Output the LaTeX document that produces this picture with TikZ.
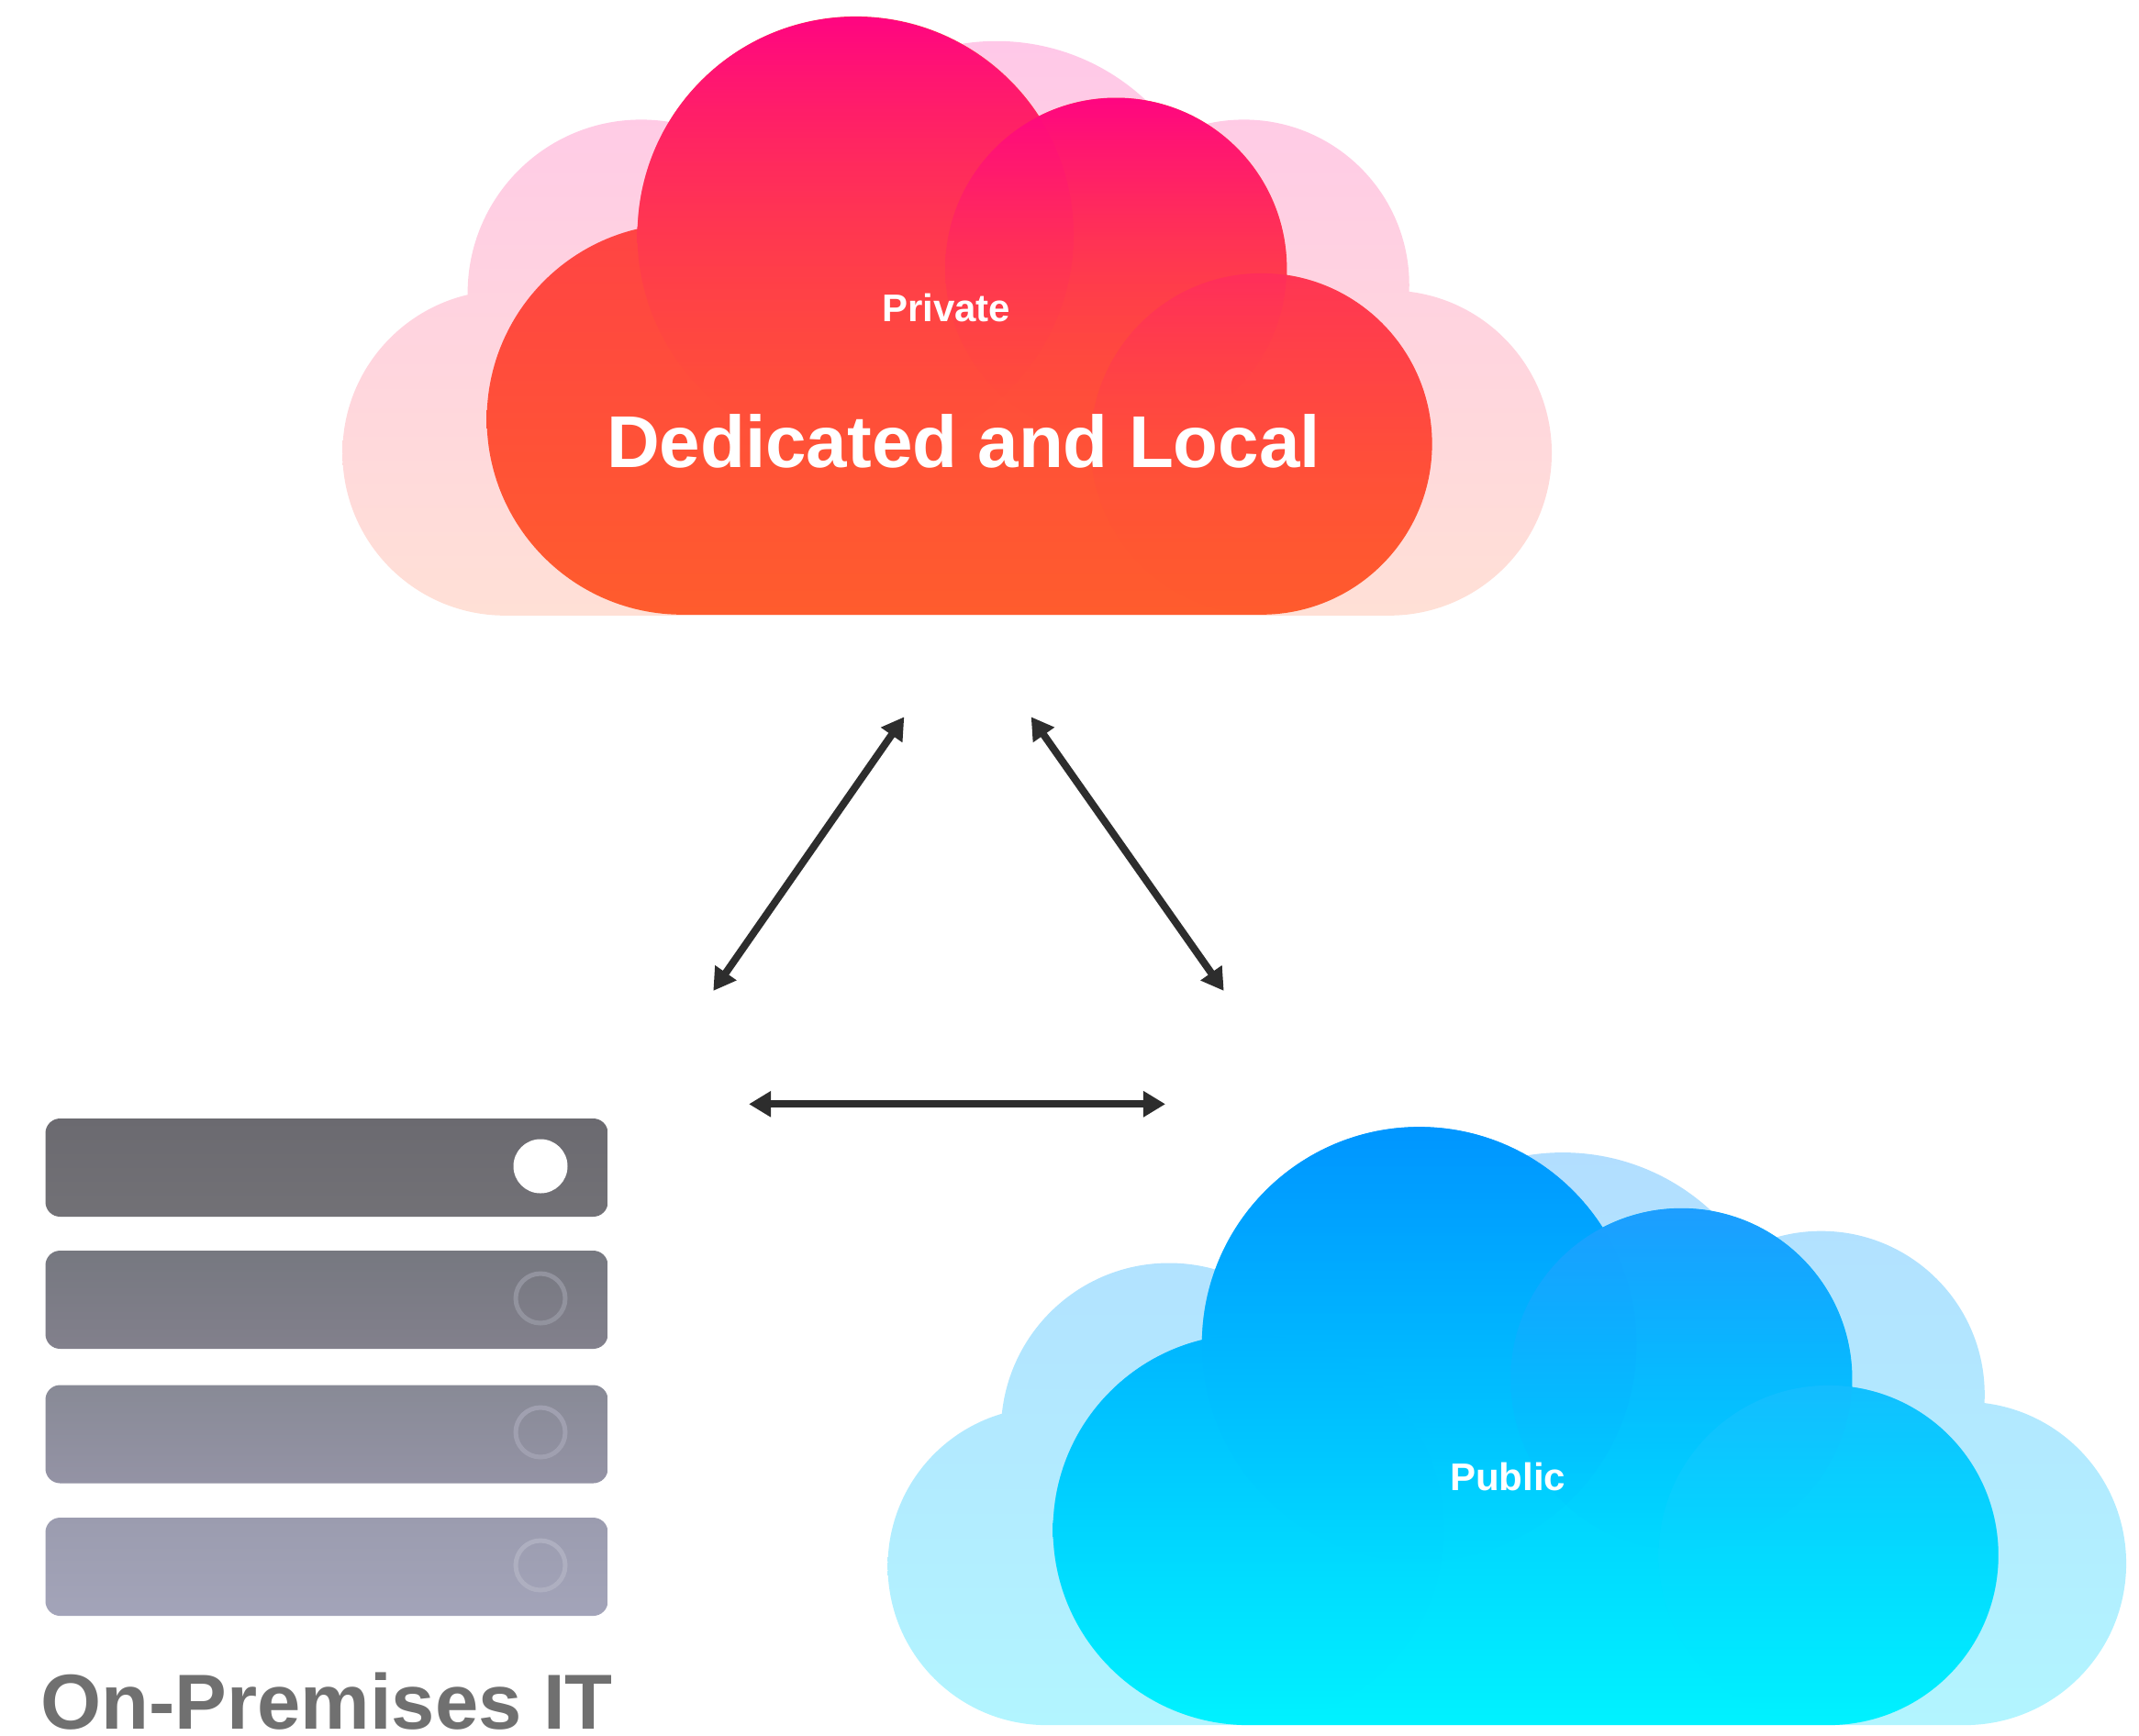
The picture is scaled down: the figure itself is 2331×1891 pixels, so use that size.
\documentclass[tikz,border=0pt]{standalone}
\usepackage{fontspec}
\setmainfont{Liberation Sans}
\usetikzlibrary{arrows.meta,fadings}
\tikzfading[name=fadeTop, top color=transparent!0, middle color=transparent!12, bottom color=transparent!100]
\tikzfading[name=fadeLobe, top color=transparent!10, middle color=transparent!100, bottom color=transparent!100]
\definecolor{pkA}{RGB}{255,5,130}
\definecolor{pkM}{RGB}{255,22,100}
\definecolor{pkB}{RGB}{255,83,54}
\definecolor{pkC}{RGB}{255,35,105}
\definecolor{orA}{RGB}{255,55,80}
\definecolor{orM}{RGB}{255,70,62}
\definecolor{orC}{RGB}{255,80,54}
\definecolor{orB}{RGB}{255,92,45}
\definecolor{pbT}{RGB}{255,200,232}
\definecolor{pbB}{RGB}{255,224,214}
\definecolor{blA}{RGB}{0,150,255}
\definecolor{blM}{RGB}{0,160,255}
\definecolor{blB}{RGB}{0,200,255}
\definecolor{blC}{RGB}{30,158,255}
\definecolor{cyT}{RGB}{0,160,255}
\definecolor{cyM}{RGB}{0,178,255}
\definecolor{cyB}{RGB}{0,242,255}
\definecolor{cyL}{RGB}{0,180,255}
\definecolor{cyR}{RGB}{28,190,255}
\definecolor{cyP}{RGB}{0,198,255}
\definecolor{cyQ}{RGB}{0,204,255}
\definecolor{bbT}{RGB}{178,222,255}
\definecolor{bbB}{RGB}{178,245,255}
\definecolor{arrowink}{RGB}{45,45,45}
\definecolor{labelgray}{RGB}{112,112,112}
\definecolor{sAt}{RGB}{107,106,112}\definecolor{sAb}{RGB}{114,113,118}
\definecolor{sBt}{RGB}{118,120,128}\definecolor{sBb}{RGB}{130,128,140}
\definecolor{sCt}{RGB}{136,138,150}\definecolor{sCb}{RGB}{148,147,165}
\definecolor{sDt}{RGB}{155,156,175}\definecolor{sDb}{RGB}{163,164,185}
\definecolor{rB}{RGB}{146,147,158}
\definecolor{rC}{RGB}{160,160,176}
\definecolor{rD}{RGB}{174,175,192}
\tikzset{
  x=1pt,y=1pt,
  bar/.style={rounded corners=16pt,minimum width=613pt,minimum height=107pt,inner sep=0pt,draw=none},
  lampon/.style={circle,fill=white,minimum size=59pt,inner sep=0pt},
  lampoff/.style={circle,draw=#1,line width=5pt,minimum size=54pt,inner sep=0pt},
  dbl/.style={arrowink,line width=8pt,{Triangle[length=24pt,width=27pt]}-{Triangle[length=24pt,width=27pt]}},
  small/.style={white,font=\bfseries\fontsize{42}{42}\selectfont,anchor=base,inner sep=0pt},
  big/.style={white,font=\bfseries\fontsize{80}{80}\selectfont,anchor=base,inner sep=0pt},
  title/.style={labelgray,font=\bfseries\fontsize{85}{85}\selectfont,anchor=base,inner sep=0pt},
}
\begin{document}
\begin{tikzpicture}
\useasboundingbox (0,0) rectangle (2331,-1891);
\begin{scope}[scale=.9953]
% ---- private cloud
\shade[top color=pbT,bottom color=pbB]
  (553,-496) rectangle (1521,-674)
  (553,-496) circle[radius=178] (1521,-496) circle[radius=178]
  (702,-321) circle[radius=190] (1362,-312) circle[radius=181]
  (1091,-284) circle[radius=239];
\shade[top color=orA,middle color=orM,bottom color=orB]
  (747,-459) rectangle (1381,-673)
  (900,-350) rectangle (1250,-673)
  (747,-459) circle[radius=214] (1381,-486) circle[radius=187]
  (937,-257) circle[radius=239] (1222,-294) circle[radius=187];
\shade[path fading=fadeTop,top color=pkA,middle color=pkM,bottom color=pkB]
  (937,-257) circle[radius=239];
\shade[path fading=fadeTop,top color=pkA,middle color=pkM,bottom color=pkB]
  (1222,-294) circle[radius=187];
\shade[path fading=fadeLobe,top color=pkC,middle color=orC,bottom color=orB,opacity=.55]
  (1381,-486) circle[radius=187];
% ---- public cloud
\shade[top color=bbT,bottom color=bbB]
  (1146,-1715) rectangle (2151,-1889)
  (1146,-1715) circle[radius=174] (2151,-1712) circle[radius=177]
  (1280,-1567) circle[radius=184] (1994,-1527) circle[radius=179]
  (1711,-1501) circle[radius=239];
\shade[top color=cyT,middle color=cyM,bottom color=cyB]
  (1367,-1675) rectangle (2002,-1889)
  (1500,-1560) rectangle (1800,-1889)
  (1367,-1675) circle[radius=214] (2002,-1703) circle[radius=186]
  (1554,-1472) circle[radius=238] (1841,-1510) circle[radius=187];
\shade[path fading=fadeTop,top color=blA,middle color=blM,bottom color=blB]
  (1554,-1472) circle[radius=238];
\shade[path fading=fadeTop,top color=blC,middle color=blM,bottom color=blB]
  (1841,-1510) circle[radius=187];
\shade[path fading=fadeLobe,top color=cyL,middle color=cyP,bottom color=cyB,opacity=.9]
  (1367,-1675) circle[radius=214];
\shade[path fading=fadeLobe,top color=cyR,middle color=cyQ,bottom color=cyB,opacity=.7]
  (2002,-1703) circle[radius=186];
% ---- labels
\node[small] (private) at (1036,-352) {Private};
\node[big] (dedicated) at (1055,-512) {Dedicated and Local};
\node[small] (public) at (1651,-1632) {Public};
% ---- arrows
\coordinate (pubA) at (990,-785);
\coordinate (srvT) at (781,-1085);
\coordinate (pubB) at (1129,-785);
\coordinate (cldT) at (1340,-1085);
\coordinate (srvR) at (820,-1209);
\coordinate (cldL) at (1276,-1209);
\draw[dbl] (pubA) -- (srvT);
\draw[dbl] (pubB) -- (cldT);
\draw[dbl] (srvR) -- (cldL);
\end{scope}
% ---- servers
\node[bar,top color=sAt,bottom color=sAb] (srvA) at (356,-1272.5) {};
\node[bar,top color=sBt,bottom color=sBb] (srvB) at (356,-1416.5) {};
\node[bar,top color=sCt,bottom color=sCb] (srvC) at (356,-1563) {};
\node[bar,top color=sDt,bottom color=sDb] (srvD) at (356,-1707.5) {};
\node[lampon] (lampA) at (589,-1271) {};
\node[lampoff=rB] (lampB) at (589,-1415) {};
\node[lampoff=rC] (lampC) at (589,-1561) {};
\node[lampoff=rD] (lampD) at (589,-1706) {};
\node[title] (onprem) at (356,-1884) {On-Premises IT};
\end{tikzpicture}
\end{document}
